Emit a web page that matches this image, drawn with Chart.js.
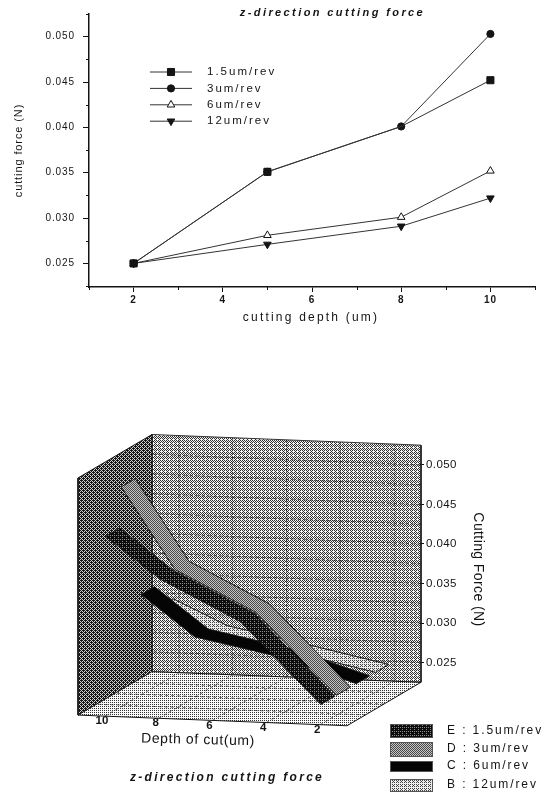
<!DOCTYPE html>
<html>
<head>
<meta charset="utf-8">
<title>z-direction cutting force</title>
<script src="https://cdn.jsdelivr.net/npm/chart.js@4/dist/chart.umd.js"></script>
<style>
  html, body { margin: 0; padding: 0; background: #fff; }
  body { width: 546px; height: 792px; position: relative; overflow: hidden; }
  canvas { position: absolute; left: 0; filter: blur(0.35px); }
  #lineChart { top: 0; }
  #ribbonChart { top: 400px; }
</style>
</head>
<body>
<canvas id="lineChart" width="546" height="330"></canvas>
<canvas id="ribbonChart" width="546" height="392"></canvas>
<script>
const TITLE = 'z-direction cutting force';
const FEEDS = ['1.5um/rev', '3um/rev', '6um/rev', '12um/rev'];
const RIBBON_NAMES = ['E : 1.5um/rev', 'D : 3um/rev', 'C : 6um/rev', 'B : 12um/rev'];
const DEPTHS = [2, 5, 8, 10];
const FORCE_1_5 = [0.025, 0.0351, 0.0401, 0.0452];
const FORCE_3 = [0.025, 0.0351, 0.0401, 0.0503];
const FORCE_6 = [0.025, 0.0281, 0.0301, 0.0352];
const FORCE_12 = [0.025, 0.0271, 0.0291, 0.0322];
const FORCE_TICKS = [0.025, 0.03, 0.035, 0.04, 0.045, 0.05];
const FORCE_MINOR = [0.0225, 0.0275, 0.0325, 0.0375, 0.0425, 0.0475, 0.0525];
const DEPTH_TICKS = [2, 4, 6, 8, 10];
const DEPTH_MINOR = [1, 3, 5, 7, 9, 11];

const FONT = '"Liberation Sans", Arial, sans-serif';
const INK = '#141414';

function drawText(ctx, text, x, y, font, spacing, rotation, align) {
  ctx.save();
  ctx.font = font;
  ctx.letterSpacing = spacing + 'px';
  ctx.fillStyle = INK;
  ctx.textAlign = align || 'center';
  ctx.textBaseline = 'middle';
  ctx.translate(x, y);
  ctx.rotate(rotation || 0);
  ctx.fillText(text, 0, 0);
  ctx.restore();
}

// top chart --------------------------------------------------------------

const lineStyles = [
  { pointStyle: 'rect', rotation: 0, fill: INK, radius: 5 },
  { pointStyle: 'circle', rotation: 0, fill: INK, radius: 3.6 },
  { pointStyle: 'triangle', rotation: 0, fill: '#fff', radius: 4.4 },
  { pointStyle: 'triangle', rotation: 180, fill: INK, radius: 4.4 },
];

const lineExtras = {
  id: 'lineExtras',
  beforeDraw(chart) {
    chart.ctx.letterSpacing = '0.9px';
  },
  afterDraw(chart) {
    const { ctx, scales } = chart;
    ctx.save();
    ctx.strokeStyle = INK;
    ctx.lineWidth = 1;
    // minor ticks
    FORCE_MINOR.forEach(v => {
      const y = Math.round(scales.y.getPixelForValue(v)) + 0.5;
      ctx.beginPath();
      ctx.moveTo(scales.y.right - 3, y);
      ctx.lineTo(scales.y.right, y);
      ctx.stroke();
    });
    DEPTH_MINOR.forEach(v => {
      const x = Math.round(scales.x.getPixelForValue(v)) + 0.5;
      ctx.beginPath();
      ctx.moveTo(x, scales.x.top);
      ctx.lineTo(x, scales.x.top + 3);
      ctx.stroke();
    });
    // legend, placed inside the plot like the original
    FEEDS.forEach((name, i) => {
      const y = 72 + i * 16.4;
      const st = lineStyles[i];
      ctx.strokeStyle = '#333';
      ctx.lineWidth = 1;
      ctx.beginPath();
      ctx.moveTo(150, y);
      ctx.lineTo(192, y);
      ctx.stroke();
      ctx.fillStyle = st.fill;
      ctx.strokeStyle = INK;
      Chart.helpers.drawPoint(ctx, { pointStyle: st.pointStyle, rotation: st.rotation, radius: st.radius, borderWidth: 1 }, 171, y);
      drawText(ctx, name, 207, y, '11.5px ' + FONT, 2, 0, 'left');
    });
    ctx.restore();
    drawText(ctx, TITLE, 332.5, 13, 'italic bold 11px ' + FONT, 2.4, 0);
    drawText(ctx, 'cutting depth (um)', 311, 318, '12px ' + FONT, 2.2, 0);
  },
};

const forceSeries = [FORCE_1_5, FORCE_3, FORCE_6, FORCE_12];

new Chart(document.getElementById('lineChart'), {
  type: 'scatter',
  data: {
    datasets: forceSeries.map((values, i) => ({
      label: FEEDS[i],
      data: DEPTHS.map((d, k) => ({ x: d, y: values[k] })),
      showLine: true,
      borderColor: '#333',
      borderWidth: 1,
      pointStyle: lineStyles[i].pointStyle,
      rotation: lineStyles[i].rotation,
      // at depth 8 the circle is the one showing, not the square
      pointRadius: i === 0 ? [5, 5, 0, 5] : lineStyles[i].radius,
      pointBackgroundColor: lineStyles[i].fill,
      pointBorderColor: INK,
      pointBorderWidth: 1,
    })),
  },
  options: {
    responsive: false,
    animation: false,
    layout: { padding: { top: 12, right: 11 } },
    plugins: { legend: { display: false }, tooltip: { enabled: false } },
    scales: {
      x: {
        type: 'linear',
        min: 1,
        max: 11,
        afterBuildTicks: scale => { scale.ticks = DEPTH_TICKS.map(value => ({ value })); },
        afterFit: scale => { scale.height = 43; },
        border: { color: INK, width: 1.5 },
        grid: { drawOnChartArea: false, color: INK, tickLength: 5 },
        ticks: { color: INK, font: { family: FONT, size: 10, weight: 'bold' }, maxRotation: 0, padding: 2, callback: v => String(v) },
      },
      y: {
        min: 0.0224,
        max: 0.0525,
        afterBuildTicks: scale => { scale.ticks = FORCE_TICKS.map(value => ({ value })); },
        afterFit: scale => { scale.width = 89; },
        border: { color: INK, width: 1.5 },
        grid: { drawOnChartArea: false, color: INK, tickLength: 6 },
        ticks: { color: INK, font: { family: FONT, size: 10 }, padding: 8, callback: v => v.toFixed(3) },
        title: { display: true, text: 'cutting force (N)', color: INK, font: { family: FONT, size: 11 }, padding: { top: 12, bottom: 0 } },
      },
    },
  },
  plugins: [lineExtras],
});

// bottom chart: a 3D box flattened onto the chart's own x and y scales ----

const BAYER = [[0, 8, 2, 10], [12, 4, 14, 6], [3, 11, 1, 9], [15, 7, 13, 5]];

function dither(level, dark, light) {
  const c = document.createElement('canvas');
  c.width = 4;
  c.height = 4;
  const g = c.getContext('2d');
  for (let j = 0; j < 4; j++) {
    for (let i = 0; i < 4; i++) {
      g.fillStyle = BAYER[j][i] < level ? dark : light;
      g.fillRect(i, j, 1, 1);
    }
  }
  return g.createPattern(c, 'repeat');
}

const ribbonFills = [dither(13, '#0c0c0c', '#8a8a8a'), dither(8, '#4a4a4a', '#c4c4c4'), '#050505', dither(5, '#444', '#ececec')];
const backWallFill = dither(7, '#303030', '#f4f4f4');
const leftWallFill = dither(10, '#161616', '#d0d0d0');
const floorFill = dither(4, '#333', '#fafafa');

const DEPTH_MIN = 1, DEPTH_MAX = 11, FORCE_MIN = 0.0225, FORCE_MAX = 0.0525;
const RIBBON_SLOTS = [[0.01, 0.2], [0.22, 0.41], [0.49, 0.67], [0.75, 0.93]];
const STEP_DEPTH_X = 26.9, STEP_SLOT_X = 74;       // x units per depth, per slot
const DROP_SLOT = 0.0055, RISE_DEPTH = 0.000135;   // y shift in newtons

// depth runs right to left, slot runs front (0) to back (1)
function project(depth, slot, force) {
  return {
    x: (DEPTH_MAX - depth) * STEP_DEPTH_X + slot * STEP_SLOT_X,
    y: force - (1 - slot) * DROP_SLOT + (depth - DEPTH_MIN) * RISE_DEPTH,
  };
}

function plane(style, points) {
  return Object.assign({
    data: points,
    showLine: true,
    pointRadius: 0,
    clip: false,
    borderColor: INK,
    borderWidth: 1,
  }, style);
}

function gridLine(from, to, dash) {
  return plane({ borderColor: 'rgba(20,20,20,0.6)', borderDash: dash, borderWidth: 1 }, [from, to]);
}

const ribbons = forceSeries.map((values, i) => {
  const [front, back] = RIBBON_SLOTS[i];
  const near = DEPTHS.map((d, k) => project(d, front, values[k]));
  const far = DEPTHS.map((d, k) => project(d, back, values[k])).reverse();
  return plane({ label: RIBBON_NAMES[i], fill: 'shape', backgroundColor: ribbonFills[i], borderColor: '#1a1a1a' }, [...near, ...far, near[0]]);
});

const wallLines = [...FORCE_TICKS, ...FORCE_MINOR.slice(1, -1)].map(f =>
  gridLine(project(DEPTH_MIN, 1, f), project(DEPTH_MAX, 1, f), [4, 2]));
const depthLines = DEPTH_TICKS.map(d =>
  gridLine(project(d, 1, FORCE_MIN), project(d, 1, FORCE_MAX), [3, 2]));
const floorDepthLines = DEPTH_TICKS.map(d =>
  gridLine(project(d, 0, FORCE_MIN), project(d, 1, FORCE_MIN), [3, 3]));
const floorSlotLines = [0.25, 0.5, 0.75].map(s =>
  gridLine(project(DEPTH_MIN, s, FORCE_MIN), project(DEPTH_MAX, s, FORCE_MIN), [3, 3]));

const forceAxisLine = plane({ borderWidth: 1.5 }, [project(DEPTH_MIN, 1, FORCE_MIN), project(DEPTH_MIN, 1, FORCE_MAX)]);

const floor = plane({ fill: 'shape', backgroundColor: floorFill }, [
  project(DEPTH_MAX, 0, FORCE_MIN), project(DEPTH_MIN, 0, FORCE_MIN), project(DEPTH_MIN, 1, FORCE_MIN),
  project(DEPTH_MAX, 1, FORCE_MIN), project(DEPTH_MAX, 0, FORCE_MIN),
]);
const leftWall = plane({ fill: 'shape', backgroundColor: leftWallFill }, [
  project(DEPTH_MAX, 0, FORCE_MIN), project(DEPTH_MAX, 1, FORCE_MIN), project(DEPTH_MAX, 1, FORCE_MAX),
  project(DEPTH_MAX, 0, FORCE_MAX), project(DEPTH_MAX, 0, FORCE_MIN),
]);
const backWall = plane({ fill: 'shape', backgroundColor: backWallFill, borderColor: '#333' }, [
  project(DEPTH_MAX, 1, FORCE_MIN), project(DEPTH_MIN, 1, FORCE_MIN), project(DEPTH_MIN, 1, FORCE_MAX),
  project(DEPTH_MAX, 1, FORCE_MAX), project(DEPTH_MAX, 1, FORCE_MIN),
]);

const ribbonExtras = {
  id: 'ribbonExtras',
  beforeDraw(chart) {
    chart.ctx.letterSpacing = '0.4px';
  },
  afterDraw(chart) {
    const { ctx, scales } = chart;
    DEPTH_TICKS.forEach(d => {
      const p = project(d, 0, FORCE_MIN);
      drawText(ctx, String(d), scales.x.getPixelForValue(p.x) - 3, scales.y.getPixelForValue(p.y) + 5, 'bold 11.5px ' + FONT, 0, 0);
    });
    drawText(ctx, 'Depth of cut(um)', 198, 340, '14px ' + FONT, 0.6, 0.025);
    drawText(ctx, TITLE, 227, 378, 'italic bold 12px ' + FONT, 2.3, 0);
    // legend
    const rows = [[324, 14], [342, 15], [361, 11], [379, 13]];
    RIBBON_NAMES.forEach((name, i) => {
      ctx.save();
      ctx.fillStyle = ribbonFills[i];
      ctx.fillRect(390, rows[i][0], 43, rows[i][1]);
      ctx.strokeStyle = '#555';
      ctx.strokeRect(390.5, rows[i][0] + 0.5, 42, rows[i][1] - 1);
      ctx.restore();
      drawText(ctx, name, 447, rows[i][0] + rows[i][1] / 2 - 0.5, '12px ' + FONT, 1.9, 0, 'left');
    });
  },
};

new Chart(document.getElementById('ribbonChart'), {
  type: 'scatter',
  data: {
    datasets: [...ribbons, forceAxisLine, ...wallLines, ...depthLines, ...floorDepthLines, ...floorSlotLines, floor, leftWall, backWall],
  },
  options: {
    responsive: false,
    animation: false,
    layout: { padding: { top: 5, bottom: 62, left: 60, right: 60 } },
    plugins: { legend: { display: false }, tooltip: { enabled: false } },
    scales: {
      x: { type: 'linear', display: false, min: -18, max: 342 },
      y: {
        position: 'right',
        min: 0.016463,
        max: 0.05709,
        afterBuildTicks: scale => { scale.ticks = FORCE_TICKS.map(value => ({ value })); },
        afterFit: scale => { scale.width = 66; },
        border: { display: false },
        grid: { drawOnChartArea: false, color: INK, tickLength: 4 },
        ticks: { color: INK, font: { family: FONT, size: 11.5 }, padding: 2, callback: v => v.toFixed(3) },
        title: { display: true, text: 'Cutting Force (N)', color: INK, font: { family: FONT, size: 14 }, padding: { top: 0, bottom: 0 } },
      },
    },
  },
  plugins: [ribbonExtras],
});
</script>
</body>
</html>
